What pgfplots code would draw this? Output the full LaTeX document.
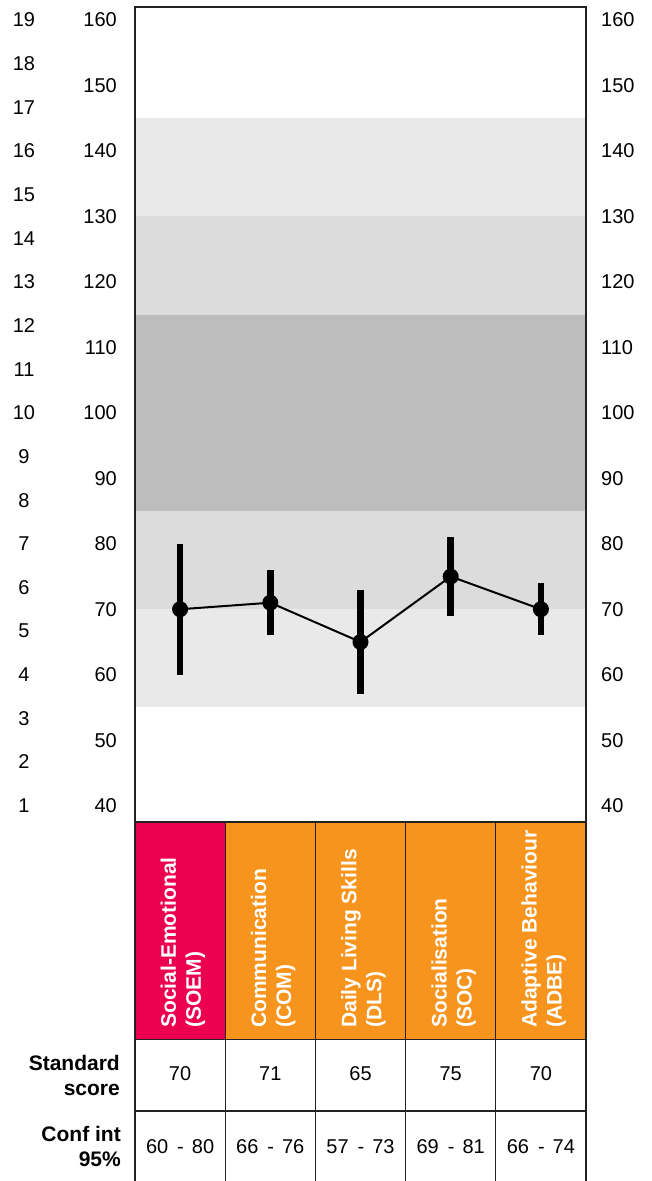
\documentclass[border=0pt]{standalone}
\usepackage{pgfplots}
\pgfplotsset{compat=1.18}
\usepackage{pgfplotstable}
\usepackage{fontspec}
\setmainfont{Liberation Sans}
\definecolor{bandA}{HTML}{E9E9E9}
\definecolor{bandB}{HTML}{DCDCDC}
\definecolor{bandC}{HTML}{BDBDBD}
\definecolor{crim}{HTML}{EC0050}
\definecolor{orng}{HTML}{F7941D}
\definecolor{gridc}{HTML}{222222}

\pgfplotstableread{
x y e
0 70 10
1 71 5
2 65 8
3 75 6
4 70 4
}\scores

\begin{document}
\begin{tikzpicture}
\useasboundingbox (0,0) rectangle (652bp,-1181bp);
\pgfplotsset{base/.style={at={(135bp,-7bp)}, anchor=north west, width=451bp, height=815bp,
  scale only axis, xmin=-0.5, xmax=4.5, major tick length=0pt, xtick=\empty,
  /pgf/number format/assume math mode=true,
  tick label style={font=\fontsize{20bp}{24bp}\selectfont, inner sep=0pt}}}
% scaled-score labels (left)
\begin{axis}[base, ymin=0.625, ymax=19.3, ytick={1,...,19},
  axis y line*=left, axis x line=none, axis line style={draw=none},
  yticklabel style={anchor=center, xshift=-111bp}]
\end{axis}
% right labels
\begin{axis}[base, ymin=37.5, ymax=162, ytick={40,50,...,160},
  axis y line*=right, axis x line=none, axis line style={draw=none},
  yticklabel style={anchor=west, xshift=15bp}]
\end{axis}
% main axis
\begin{axis}[base, ymin=37.5, ymax=162, ytick={40,50,...,160},
  axis on top, axis line style={line width=1.2bp, draw=gridc},
  yticklabel style={anchor=east, xshift=-18bp}]
\addplot[fill=bandA, draw=none] coordinates {(-0.5,130) (4.5,130) (4.5,145) (-0.5,145)} -- cycle;
\addplot[fill=bandB, draw=none] coordinates {(-0.5,115) (4.5,115) (4.5,130) (-0.5,130)} -- cycle;
\addplot[fill=bandC, draw=none] coordinates {(-0.5,85) (4.5,85) (4.5,115) (-0.5,115)} -- cycle;
\addplot[fill=bandB, draw=none] coordinates {(-0.5,70) (4.5,70) (4.5,85) (-0.5,85)} -- cycle;
\addplot[fill=bandA, draw=none] coordinates {(-0.5,55) (4.5,55) (4.5,70) (-0.5,70)} -- cycle;
\addplot[black, line width=2bp, mark=*, mark size=7bp,
  error bars/.cd, y dir=both, y explicit, error mark=none,
  error bar style={line width=6.5bp}]
  table[x=x, y=y, y error=e]{\scores};
\end{axis}
% category boxes
\fill[crim] (135bp,-822bp) rectangle (225.2bp,-1039.5bp);
\fill[orng] (225.2bp,-822bp) rectangle (586bp,-1039.5bp);
\foreach \xx in {135,225.2,315.4,405.6,495.8,586}{
  \draw[gridc, line width=1.3bp] (\xx bp,-822bp) -- (\xx bp,-1181bp);
}
\draw[gridc, line width=1.3bp] (135bp,-822bp) -- (586bp,-822bp);
\draw[gridc, line width=1.3bp] (135bp,-1039.5bp) -- (586bp,-1039.5bp);
\draw[gridc, line width=1.3bp] (135bp,-1111bp) -- (586bp,-1111bp);
\tikzset{cat/.style={rotate=90, anchor=west, align=left, text=white, inner sep=0pt,
  font=\bfseries\fontsize{21bp}{25bp}\selectfont},
  val/.style={inner sep=0pt, font=\fontsize{20bp}{24bp}\selectfont}}
\node[cat] at (183bp,-1028bp) {Social-Emotional\\(SOEM)};
\node[cat] at (273.2bp,-1028bp) {Communication\\(COM)};
\node[cat] at (363.4bp,-1028bp) {Daily Living Skills\\(DLS)};
\node[cat] at (453.6bp,-1028bp) {Socialisation\\(SOC)};
\node[cat] at (543.8bp,-1028bp) {Adaptive Behaviour\\(ADBE)};
\node[anchor=east, align=right, inner sep=0pt, font=\bfseries\fontsize{21bp}{25bp}\selectfont] at (120bp,-1075bp) {Standard\\score};
\node[anchor=east, align=right, inner sep=0pt, font=\bfseries\fontsize{21bp}{25bp}\selectfont] at (121bp,-1146bp) {Conf int\\95\%};
\node[val] at (180.1bp,-1074bp) {70};
\node[val] at (270.3bp,-1074bp) {71};
\node[val] at (360.5bp,-1074bp) {65};
\node[val] at (450.7bp,-1074bp) {75};
\node[val] at (540.9bp,-1074bp) {70};
\node[val] at (180.1bp,-1147bp) {60\hspace{0.45em}-\hspace{0.4em}80};
\node[val] at (270.3bp,-1147bp) {66\hspace{0.45em}-\hspace{0.4em}76};
\node[val] at (360.5bp,-1147bp) {57\hspace{0.45em}-\hspace{0.4em}73};
\node[val] at (450.7bp,-1147bp) {69\hspace{0.45em}-\hspace{0.4em}81};
\node[val] at (540.9bp,-1147bp) {66\hspace{0.45em}-\hspace{0.4em}74};
\end{tikzpicture}
\end{document}
